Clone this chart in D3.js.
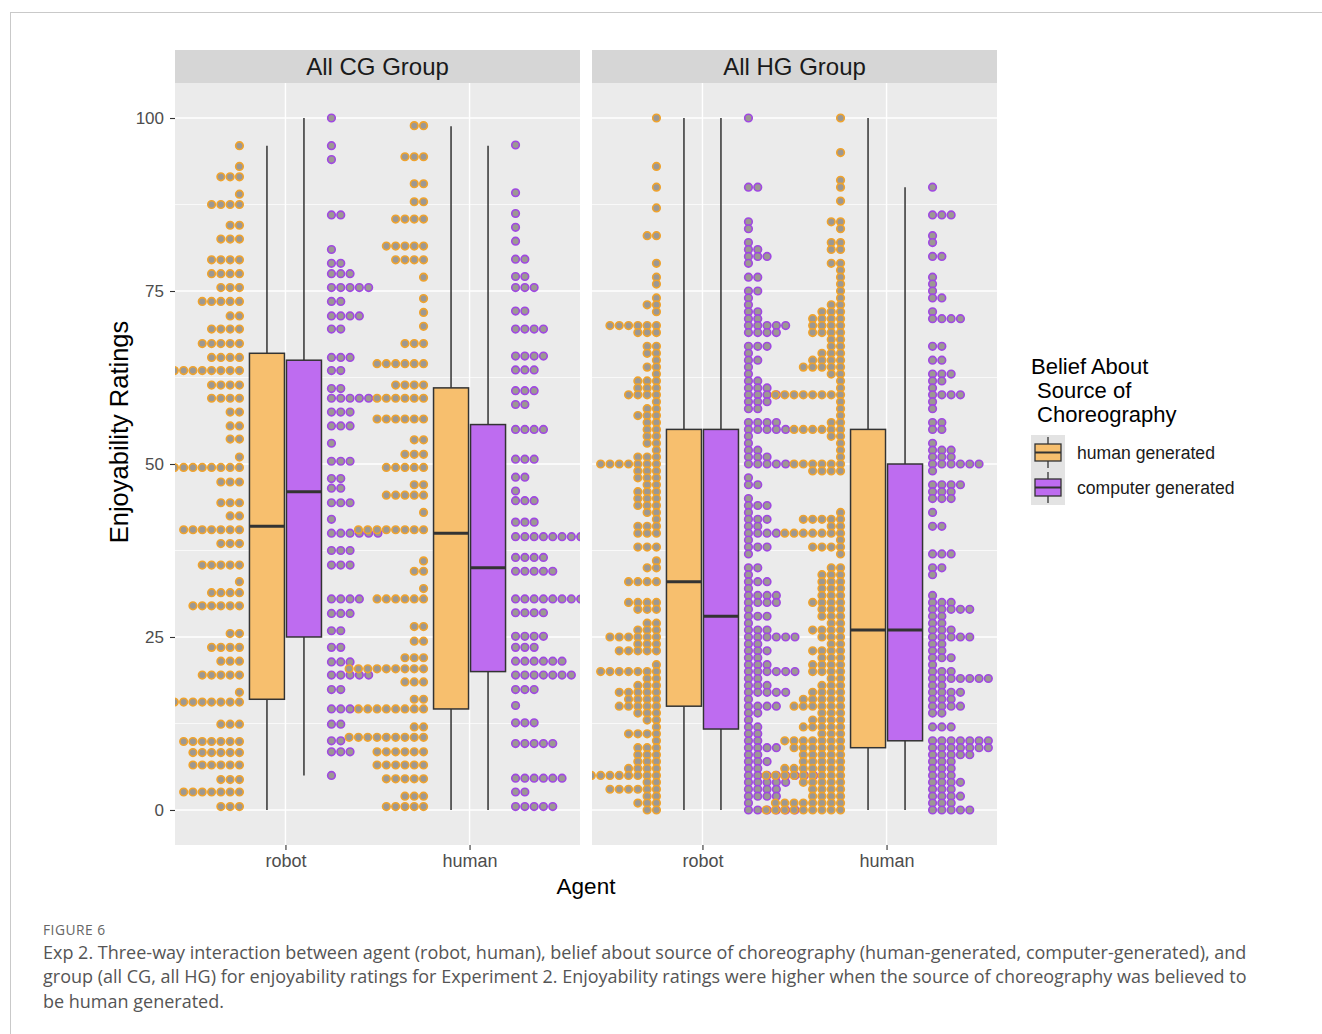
<!DOCTYPE html>
<html>
<head>
<meta charset="utf-8">
<script src="https://cdn.jsdelivr.net/npm/d3@7"></script>
<style>
body { margin: 0; background: #fff; }
text { font-family: "Liberation Sans", Arial, sans-serif; }
.caption { font-family: "Open Sans", "Noto Sans", sans-serif; }
</style>
</head>
<body>
<div id="chart"></div>
<script>
// facets, categories, legend
const groups = ["All CG Group", "All HG Group"];
const agents = ["robot", "human"];
const beliefs = ["human generated", "computer generated"];
const yTicks = [0, 25, 50, 75, 100];
const yMinor = [12.5, 37.5, 62.5, 87.5];

// boxplot stats: [lower whisker, q1, median, q3, upper whisker]
const boxCGRobotHum = [0, 16, 41, 66, 96];
const boxCGRobotComp = [5, 25, 46, 65, 100];
const boxCGHumanHum = [0, 14.6, 40, 61, 98.8];
const boxCGHumanComp = [0, 20, 35, 55.7, 96];
const boxHGRobotHum = [0, 15, 33, 55, 100];
const boxHGRobotComp = [0, 11.7, 28, 55, 100];
const boxHGHumanHum = [0, 9, 26, 55, 100];
const boxHGHumanComp = [0, 10, 26, 50, 90];

// dotplot bins: [rating, number of dots]
const dotsCGRobotHum = [[96,1],[93,1],[91.5,3],[89,1],[87.5,4],[84.5,2],[82.5,3],[79.5,4],[77.5,4],[75.5,3],[73.5,5],[71.4,2],[69.5,4],[67.4,5],[65.4,4],[63.5,8],[61.4,4],[59.5,4],[57.5,2],[55.5,2],[53.6,2],[51,1],[49.5,8],[47.4,3],[44.4,3],[42.5,2],[40.5,7],[38.5,3],[35.4,5],[33,1],[31.4,4],[29.5,6],[25.5,2],[23.5,4],[21.5,3],[19.5,5],[17,1],[15.6,8],[12.4,3],[9.9,7],[8.3,6],[6.5,6],[4.4,3],[2.6,7],[0.5,3]];
const dotsCGRobotComp = [[100,1],[96,1],[94,1],[86,2],[81,1],[79,2],[77.5,3],[75.5,5],[73.5,2],[71.4,4],[69.5,2],[65.4,3],[63.5,2],[60.9,2],[59.5,5],[57.5,3],[55.5,3],[53,1],[50.4,3],[47.9,2],[46.5,2],[44.4,3],[42,1],[40,6],[37.5,3],[35.4,3],[30.5,4],[28.4,3],[25.9,2],[23.5,2],[21.4,3],[19.5,5],[17.4,2],[14.6,3],[12.4,2],[10,2],[8.4,3],[5,1]];
const dotsCGHumanHum = [[98.9,2],[94.4,3],[90.5,2],[87.9,2],[85.4,4],[81.5,5],[79.5,4],[77,1],[73.9,1],[71.9,1],[69.9,1],[67.4,3],[64.5,6],[61.4,4],[59.5,6],[56.5,6],[53.5,2],[51.4,3],[49.5,5],[47,2],[45.5,5],[43,1],[40.5,8],[36,1],[34.5,2],[32,1],[30.5,6],[26.5,2],[24.4,2],[22,3],[20.4,9],[18.5,3],[16,2],[14.6,8],[12,2],[10.5,9],[8.4,6],[6.5,6],[4.5,5],[2,3],[0.5,5]];
const dotsCGHumanComp = [[96.1,1],[89.2,1],[86.2,1],[84.2,1],[82.2,1],[79.6,2],[77.1,2],[75.5,3],[72.1,2],[69.5,4],[65.6,4],[63.6,3],[60.6,3],[58.6,2],[55,4],[50.7,3],[48.1,2],[46.1,1],[44.7,3],[41.6,3],[39.5,8],[36.5,4],[34.5,5],[30.5,9],[28.5,4],[25.1,4],[23.5,3],[21.5,6],[19.5,7],[17.4,3],[15.1,1],[12.6,3],[9.6,5],[4.6,6],[2.6,2],[0.5,5]];
const dotsHGRobotHum = [[100,1],[93,1],[90,1],[87,1],[83,2],[79,1],[77,1],[76,1],[74,1],[73,2],[72,1],[70,6],[69,3],[67,2],[66,2],[65,1],[64,2],[63,1],[62,3],[61,3],[60,4],[59,1],[58,2],[57,3],[56,2],[55,2],[54,2],[53,2],[52,1],[51,3],[50,7],[49,3],[48,3],[47,2],[46,3],[45,3],[44,3],[43,2],[42,1],[41,3],[40,3],[38,3],[36,1],[35,2],[33,4],[30,4],[29,3],[27,2],[26,3],[25,6],[24,3],[23,5],[21,1],[20,7],[19,2],[18,3],[17,5],[16,4],[15,5],[14,3],[13,2],[12,1],[11,4],[10,1],[9,3],[8,3],[7,3],[6,4],[5,9],[4,2],[3,6],[2,2],[1,3],[0,2]];
const dotsHGRobotComp = [[100,1],[90,2],[85,1],[84,1],[82,1],[81,2],[80,3],[79,1],[77,2],[75,2],[74,1],[73,1],[72,2],[71,2],[70,5],[69,4],[67,3],[66,1],[65,2],[64,1],[63,1],[62,2],[61,3],[60,4],[59,3],[58,2],[56,4],[55,5],[54,1],[53,1],[52,2],[51,3],[50,5],[48,1],[47,2],[45,1],[44,3],[43,1],[42,3],[41,2],[40,4],[39,1],[38,3],[37,1],[35,2],[34,1],[33,3],[32,1],[31,4],[30,4],[29,1],[28,3],[27,1],[26,3],[25,6],[24,2],[23,3],[22,2],[21,3],[20,6],[19,2],[18,3],[17,5],[16,1],[15,4],[14,2],[13,1],[12,2],[11,2],[10,2],[9,4],[8,2],[7,3],[6,2],[5,8],[4,5],[3,4],[2,4],[1,1],[0,6]];
const dotsHGHumanHum = [[100,1],[95,1],[91,1],[90,1],[88,1],[85,2],[84,1],[82,2],[81,2],[79,2],[78,1],[77,1],[76,1],[75,1],[74,1],[73,2],[72,3],[71,4],[70,4],[69,4],[68,2],[67,2],[66,3],[65,4],[64,5],[63,2],[62,1],[61,1],[60,8],[59,1],[58,1],[57,1],[56,2],[55,6],[54,2],[53,1],[52,1],[51,1],[50,6],[49,4],[43,1],[42,5],[41,2],[40,7],[39,1],[38,4],[37,1],[35,2],[34,3],[33,3],[32,3],[31,3],[30,4],[29,3],[28,3],[27,2],[26,4],[25,3],[24,2],[23,4],[22,3],[21,4],[20,4],[19,2],[18,3],[17,4],[16,5],[15,6],[14,3],[13,4],[12,5],[11,3],[10,7],[9,6],[8,5],[7,5],[6,7],[5,9],[4,5],[3,4],[2,4],[1,8],[0,9]];
const dotsHGHumanComp = [[90,1],[86,3],[83,1],[82,1],[80,2],[77,1],[76,1],[75,1],[74,2],[72,1],[71,4],[67,2],[65,2],[63,3],[62,2],[61,1],[60,4],[59,1],[58,1],[56,2],[55,2],[53,1],[52,3],[51,3],[50,6],[49,1],[47,4],[46,3],[45,3],[43,1],[41,2],[37,3],[35,2],[34,1],[31,1],[30,3],[29,5],[28,2],[27,2],[26,3],[25,5],[24,2],[23,2],[22,3],[21,1],[20,3],[19,7],[18,2],[17,4],[16,3],[15,4],[14,2],[12,3],[10,7],[9,7],[8,5],[7,3],[6,3],[5,3],[4,4],[3,3],[2,4],[1,3],[0,5]];

const boxFill = ["#F7BF6E", "#BE6CF0"];
const dotStroke = ["#F0A32C", "#A048E2"];
const dotFill = "#9C9893";

let width = 1322;
let height = 1034;

let svg = d3.select("#chart")
    .append("svg")
    .attr("width", width)
    .attr("height", height);

// figure frame
svg.append("line").attr("x1", 10).attr("x2", width).attr("y1", 12.5).attr("y2", 12.5)
    .attr("stroke", "#c9c9c9");
svg.append("line").attr("x1", 10.5).attr("x2", 10.5).attr("y1", 12).attr("y2", height)
    .attr("stroke", "#c9c9c9");

let panelTop = 83, panelBottom = 845, stripTop = 50;

let panelScale = d3.scaleBand().domain(groups).range([175, 997]).paddingInner(12 / 417);

let yScale = d3.scaleLinear().domain([-5.06, 105.06]).range([panelBottom, panelTop]);

let beliefOffset = d3.scaleOrdinal().domain(beliefs).range([-18.5, 18.5]);
let dotStart = d3.scaleOrdinal().domain(beliefs).range([-46, 46]);
let dotDir = d3.scaleOrdinal().domain(beliefs).range([-1, 1]);
let colorFill = d3.scaleOrdinal().domain(beliefs).range(boxFill);
let colorDot = d3.scaleOrdinal().domain(beliefs).range(dotStroke);

let cells = [
    {group: groups[0], agent: "robot", belief: beliefs[0], box: boxCGRobotHum, dots: dotsCGRobotHum},
    {group: groups[0], agent: "robot", belief: beliefs[1], box: boxCGRobotComp, dots: dotsCGRobotComp},
    {group: groups[0], agent: "human", belief: beliefs[0], box: boxCGHumanHum, dots: dotsCGHumanHum},
    {group: groups[0], agent: "human", belief: beliefs[1], box: boxCGHumanComp, dots: dotsCGHumanComp},
    {group: groups[1], agent: "robot", belief: beliefs[0], box: boxHGRobotHum, dots: dotsHGRobotHum},
    {group: groups[1], agent: "robot", belief: beliefs[1], box: boxHGRobotComp, dots: dotsHGRobotComp},
    {group: groups[1], agent: "human", belief: beliefs[0], box: boxHGHumanHum, dots: dotsHGHumanHum},
    {group: groups[1], agent: "human", belief: beliefs[1], box: boxHGHumanComp, dots: dotsHGHumanComp}
];

let dotSpacing = 9.3;
let dotR = 3.8;
let boxW = 35;

groups.forEach(function(g, gi){
    let x0 = panelScale(g);
    let pw = panelScale.bandwidth();
    let xScale = d3.scalePoint().domain(agents).range([x0, x0 + pw]).padding(0.6);

    let panel = svg.append("g").attr("class", "panel");

    // strip
    panel.append("rect").attr("x", x0).attr("y", stripTop).attr("width", pw)
        .attr("height", panelTop - stripTop).attr("fill", "#d6d6d6");
    panel.append("text").attr("x", x0 + pw / 2).attr("y", (stripTop + panelTop) / 2 + 8.5)
        .attr("text-anchor", "middle").attr("font-size", 24).attr("fill", "#1a1a1a")
        .text(g);

    panel.append("rect").attr("x", x0).attr("y", panelTop).attr("width", pw)
        .attr("height", panelBottom - panelTop).attr("fill", "#ebebeb");

    panel.selectAll(".minor").data(yMinor).enter().append("line")
        .attr("x1", x0).attr("x2", x0 + pw)
        .attr("y1", d => yScale(d)).attr("y2", d => yScale(d))
        .attr("stroke", "#fff").attr("stroke-width", 0.7);
    panel.selectAll(".major").data(yTicks).enter().append("line")
        .attr("x1", x0).attr("x2", x0 + pw)
        .attr("y1", d => yScale(d)).attr("y2", d => yScale(d))
        .attr("stroke", "#fff").attr("stroke-width", 1.4);
    panel.selectAll(".vmajor").data(agents).enter().append("line")
        .attr("x1", d => xScale(d)).attr("x2", d => xScale(d))
        .attr("y1", panelTop).attr("y2", panelBottom)
        .attr("stroke", "#fff").attr("stroke-width", 1.4);

    // x axis ticks + labels
    let xAxis = d3.axisBottom(xScale).tickSize(5).tickPadding(4);
    let xg = panel.append("g").attr("transform", `translate(0, ${panelBottom})`).call(xAxis);
    xg.select(".domain").remove();
    xg.selectAll("line").attr("stroke", "#333").attr("stroke-width", 1.1);
    xg.selectAll("text").attr("font-size", 18).attr("fill", "#4d4d4d")
        .attr("font-family", "Liberation Sans, Arial, sans-serif");

    svg.append("clipPath").attr("id", "clip" + gi).append("rect")
        .attr("x", x0).attr("y", panelTop).attr("width", pw).attr("height", panelBottom - panelTop);

    let marks = panel.append("g").attr("clip-path", `url(#clip${gi})`);

    let panelCells = cells.filter(c => c.group === g);

    // boxes
    panelCells.forEach(function(c){
        let cx = xScale(c.agent) + beliefOffset(c.belief);
        let b = c.box;
        let bg = marks.append("g");
        bg.append("line").attr("x1", cx).attr("x2", cx)
            .attr("y1", yScale(b[0])).attr("y2", yScale(b[1]))
            .attr("stroke", "#333").attr("stroke-width", 1.5);
        bg.append("line").attr("x1", cx).attr("x2", cx)
            .attr("y1", yScale(b[3])).attr("y2", yScale(b[4]))
            .attr("stroke", "#333").attr("stroke-width", 1.5);
        bg.append("rect").attr("x", cx - boxW / 2).attr("width", boxW)
            .attr("y", yScale(b[3])).attr("height", yScale(b[1]) - yScale(b[3]))
            .attr("fill", colorFill(c.belief)).attr("stroke", "#333").attr("stroke-width", 1.5);
        bg.append("line").attr("x1", cx - boxW / 2).attr("x2", cx + boxW / 2)
            .attr("y1", yScale(b[2])).attr("y2", yScale(b[2]))
            .attr("stroke", "#333").attr("stroke-width", 3);
    });

    // dots
    panelCells.forEach(function(c){
        let base = xScale(c.agent) + dotStart(c.belief);
        let pts = [];
        c.dots.forEach(function(d){
            for (let i = 0; i < d[1]; i++) {
                pts.push({v: d[0], i: i});
            }
        });
        marks.append("g").selectAll("circle").data(pts).enter().append("circle")
            .attr("cx", d => base + dotDir(c.belief) * d.i * dotSpacing)
            .attr("cy", d => yScale(d.v))
            .attr("r", dotR)
            .attr("fill", dotFill)
            .attr("stroke", colorDot(c.belief))
            .attr("stroke-width", 1.6);
    });
});

// y axis
let yAxis = d3.axisLeft(yScale).tickValues(yTicks).tickSize(5).tickPadding(6);
let yg = svg.append("g").attr("transform", `translate(${panelScale(groups[0])}, 0)`).call(yAxis);
yg.select(".domain").remove();
yg.selectAll("line").attr("stroke", "#333").attr("stroke-width", 1.1);
yg.selectAll("text").attr("font-size", 17).attr("fill", "#4d4d4d")
    .attr("font-family", "Liberation Sans, Arial, sans-serif");

// axis titles
svg.append("text").attr("x", (175 + 997) / 2).attr("y", 894)
    .attr("text-anchor", "middle").attr("font-size", 22.5).attr("fill", "#000")
    .text("Agent");
svg.append("text").attr("transform", "translate(128, 432) rotate(-90)")
    .attr("text-anchor", "middle").attr("font-size", 25.5).attr("fill", "#000")
    .text("Enjoyability Ratings");

// legend
let legend = svg.append("g").attr("transform", "translate(1031, 0)");
["Belief About", " Source of", " Choreography"].forEach(function(t, i){
    legend.append("text").attr("x", 0).attr("y", 374 + i * 24)
        .attr("font-size", 22).attr("fill", "#000").attr("xml:space", "preserve")
        .style("white-space", "pre")
        .text(t);
});
beliefs.forEach(function(b, i){
    let ky = 435 + i * 35;
    legend.append("rect").attr("x", 0).attr("y", ky).attr("width", 34).attr("height", 35)
        .attr("fill", "#e3e3e3");
    legend.append("line").attr("x1", 17).attr("x2", 17).attr("y1", ky + 2).attr("y2", ky + 33)
        .attr("stroke", "#333").attr("stroke-width", 1.3);
    legend.append("rect").attr("x", 4).attr("y", ky + 9).attr("width", 26).attr("height", 17)
        .attr("fill", colorFill(b)).attr("stroke", "#333").attr("stroke-width", 1.3);
    legend.append("line").attr("x1", 4).attr("x2", 30).attr("y1", ky + 17.5).attr("y2", ky + 17.5)
        .attr("stroke", "#333").attr("stroke-width", 2);
    legend.append("text").attr("x", 46).attr("y", ky + 23.5)
        .attr("font-size", 17.6).attr("fill", "#1a1a1a")
        .text(b);
});

// caption
let cap = svg.append("g");
cap.append("text").attr("class", "caption").attr("x", 43).attr("y", 935)
    .attr("font-size", 13.8).attr("fill", "#666").attr("letter-spacing", 0.5)
    .text("FIGURE 6");
[
    "Exp 2. Three-way interaction between agent (robot, human), belief about source of choreography (human-generated, computer-generated), and",
    "group (all CG, all HG) for enjoyability ratings for Experiment 2. Enjoyability ratings were higher when the source of choreography was believed to",
    "be human generated."
].forEach(function(t, i){
    cap.append("text").attr("class", "caption").attr("x", 43).attr("y", 959 + i * 24.3)
        .attr("font-size", 18).attr("fill", "#555")
        .text(t);
});
</script>
</body>
</html>
